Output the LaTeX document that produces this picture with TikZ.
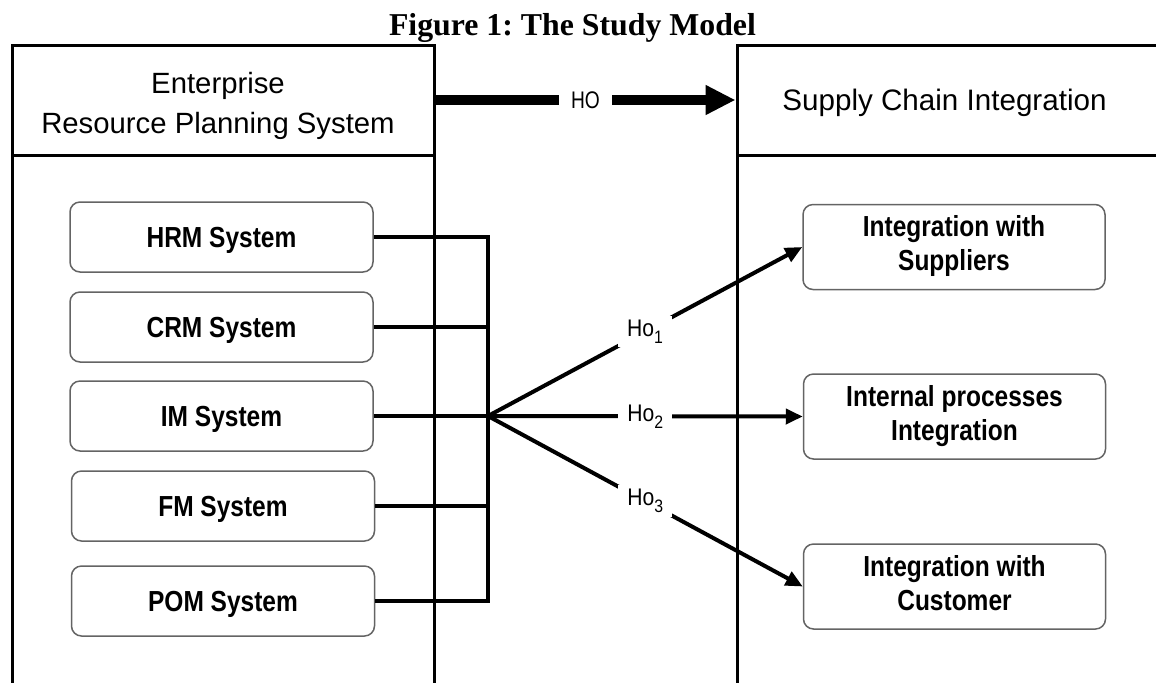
\documentclass[tikz,border=0pt]{standalone}
\usepackage{fontspec}
\usepackage{graphicx}
\setmainfont{Liberation Sans}
\newfontfamily\serifbold{Liberation Serif}
\usetikzlibrary{arrows.meta}
\definecolor{boxedge}{RGB}{100,100,100}
% horizontally condensed text
\newcommand{\narrowtext}[2][0.845]{\scalebox{#1}[1]{#2}}
% lowered index after a hypothesis name
\newcommand{\lowidx}[1]{\raisebox{-3.5pt}{\fontsize{9}{9}\selectfont #1}}
\frenchspacing

\begin{document}
\begin{tikzpicture}[x=0.5pt, y=-0.5pt,
  frame/.style={line width=1.5pt, line join=miter},
  module/.style={draw=boxedge, line width=0.75pt, rounded corners=5pt, fill=white,
    minimum width=151.5pt, minimum height=35pt, inner sep=0pt, text depth=0pt,
    font=\fontsize{14.5}{17}\selectfont\bfseries},
  outcome/.style={draw=boxedge, line width=0.75pt, rounded corners=5pt, fill=white,
    minimum width=151pt, minimum height=42.5pt, inner sep=0pt,
    font=\fontsize{14.5}{17}\selectfont\bfseries},
  link/.style={line width=2pt, line join=miter},
  hyp/.style={line width=2pt, -{Triangle[length=8.5pt,width=7.5pt]}},
  hyplabel/.style={fill=white, inner xsep=4.5pt, inner ysep=2pt,
    font=\fontsize{12}{14}\selectfont},
]
\useasboundingbox (0,0) rectangle (1156,682);
\fill[white] (0,0) rectangle (1156,682);
\clip (0,0) rectangle (1156,682);

% caption
\node[anchor=base, inner sep=0pt, font=\serifbold\bfseries\fontsize{15.9}{18}\selectfont]
  (title) at (572.5,35) {Figure 1: The Study Model};

% the two large frames, open at the bottom
\draw[frame] (12,700) -- (12,45) -- (434,45) -- (434,700);
\draw[frame] (12,155) -- (434,155);
\draw[frame] (737,700) -- (737,45) -- (1180,45);
\draw[frame] (737,155) -- (1180,155);

% frame headings
\node[align=center, font=\fontsize{14.65}{20}\selectfont] (erp) at (218,105.5)
  {Enterprise\\Resource Planning System};
\node[anchor=base, inner sep=0pt, font=\fontsize{14.8}{18}\selectfont] (sci) at (944.5,110)
  {Supply Chain Integration};

% main hypothesis
\coordinate (erpR) at (435.5,100);
\coordinate (sciL) at (735.5,100);
\draw[line width=5pt, -{Triangle[length=15pt,width=14pt]}] (erpR) --
  node[fill=white, inner xsep=6pt, inner ysep=5.5pt, text depth=0pt,
       font=\fontsize{12}{14}\selectfont] (ho) {\narrowtext[0.8]{HO}} (sciL);

% ERP modules
\node[module] (hrm) at (221.5,237) {\narrowtext{HRM System}};
\node[module] (crm) at (221.5,327) {\narrowtext{CRM System}};
\node[module] (im)  at (221.5,416) {\narrowtext{IM System}};
\node[module] (fm)  at (223,506)   {\narrowtext{FM System}};
\node[module] (pom) at (223,601)   {\narrowtext{POM System}};

% collecting bus
\coordinate (hub) at (488,416);
\draw[link] (hrm.east) -- (hrm.east -| hub) -- (pom.east -| hub) -- (pom.east);
\draw[link] (crm.east) -- (crm.east -| hub);
\draw[link] (im.east) -- (hub);
\draw[link] (fm.east) -- (fm.east -| hub);

% integration dimensions
\node[outcome] (sup) at (954,247)
  {\narrowtext{\begin{tabular}{@{}c@{}}Integration with\\Suppliers\end{tabular}}};
\node[outcome] (int) at (954.5,416.5)
  {\narrowtext{\begin{tabular}{@{}c@{}}Internal processes\\Integration\end{tabular}}};
\node[outcome] (cus) at (954.5,586.5)
  {\narrowtext{\begin{tabular}{@{}c@{}}Integration with\\Customer\end{tabular}}};

% sub-hypotheses
\draw[hyp] (hub) -- node[hyplabel] (h1) {\narrowtext[0.88]{Ho\lowidx{1}}} (sup.west);
\draw[hyp] (hub) -- node[hyplabel] (h2) {\narrowtext[0.88]{Ho\lowidx{2}}} (int.west);
\draw[hyp] (hub) -- node[hyplabel] (h3) {\narrowtext[0.88]{Ho\lowidx{3}}} (cus.west);
\end{tikzpicture}
\end{document}
